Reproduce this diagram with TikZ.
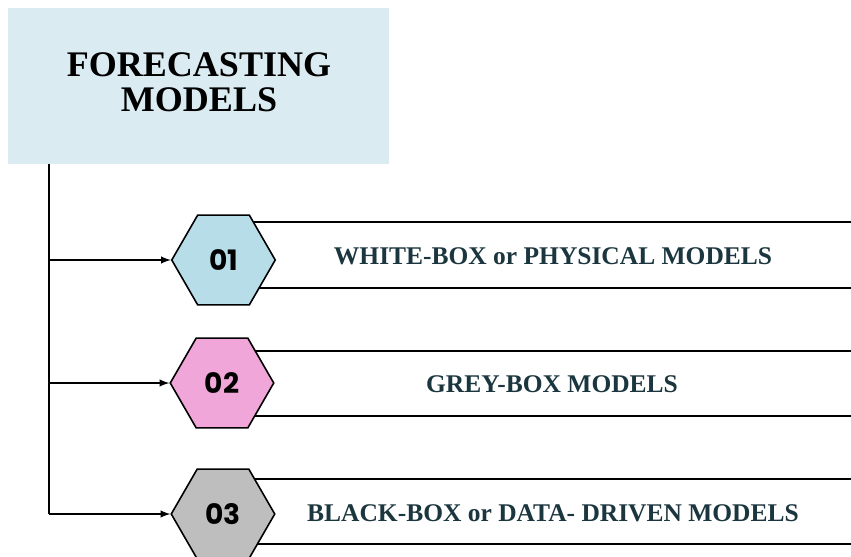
\documentclass[tikz,border=0pt]{standalone}
\usepackage{fontspec}
\setmainfont{Liberation Serif}
\newfontfamily\numfont{Poppins}
\usetikzlibrary{arrows,shapes.geometric,backgrounds}
\definecolor{titlefill}{HTML}{DAECF2}
\definecolor{hexblue}{HTML}{B7DDE8}
\definecolor{hexpink}{HTML}{F0A6D8}
\definecolor{hexgrey}{HTML}{BEBEBE}
\definecolor{labelink}{HTML}{1B363E}

\begin{document}
\begin{tikzpicture}[x=0.02cm,y=-0.02cm,
    hexnode/.style={regular polygon,regular polygon sides=6,
        minimum size=2.07cm,inner sep=0pt,draw,line width=0.9pt,
        font=\numfont\bfseries\fontsize{16}{18}\selectfont},
    bandlabel/.style={text=labelink,font=\bfseries\fontsize{14.5}{17}\selectfont},
    bandline/.style={line width=1.2pt}]
              \useasboundingbox (0,0) rectangle (851,557);
              \fill[titlefill] (8,8) rectangle (389,164);
              \node[align=center,font=\bfseries\fontsize{20.5}{20}\selectfont](title)at(199,82){FORECASTING\\MODELS};
              \coordinate (t0) at (49,164);
              \coordinate (t1) at (49,260);
              \coordinate (t2) at (49,383);
              \coordinate (t3) at (49,514);
              % hexagons
              \node[hexnode,fill=hexblue](h1)at(223.5,260){01};
              \node[hexnode,fill=hexpink](h2)at(222,383){02};
              \node[hexnode,fill=hexgrey](h3)at(223,514){03};
              % bands behind the hexagons
              \begin{scope}[on background layer]
              \draw[bandline] (h1.center)++(0,-38) -- ++(640,0);
              \draw[bandline] (h1.center)++(0,28) -- ++(640,0);
              \draw[bandline] (h2.center)++(0,-32) -- ++(640,0);
              \draw[bandline] (h2.center)++(0,33) -- ++(640,0);
              \draw[bandline] (h3.center)++(0,-35) -- ++(640,0);
              \draw[bandline] (h3.center)++(0,30) -- ++(640,0);
              \end{scope}
              \node[bandlabel](l1)at(553,256){WHITE-BOX or PHYSICAL MODELS};
              \node[bandlabel](l2)at(552,384){GREY-BOX MODELS};
              \node[bandlabel](l3)at(553,513){BLACK-BOX or DATA- DRIVEN MODELS};
              % connectors
              \draw[line width=1.2pt] (t0)--(t3);
              \draw[-latex,line width=0.9pt] (t1)--(h1.west);
              \draw[-latex,line width=0.9pt] (t2)--(h2.west);
              \draw[-latex,line width=0.9pt] (t3)--(h3.west);
            \end{tikzpicture}
\end{document}
